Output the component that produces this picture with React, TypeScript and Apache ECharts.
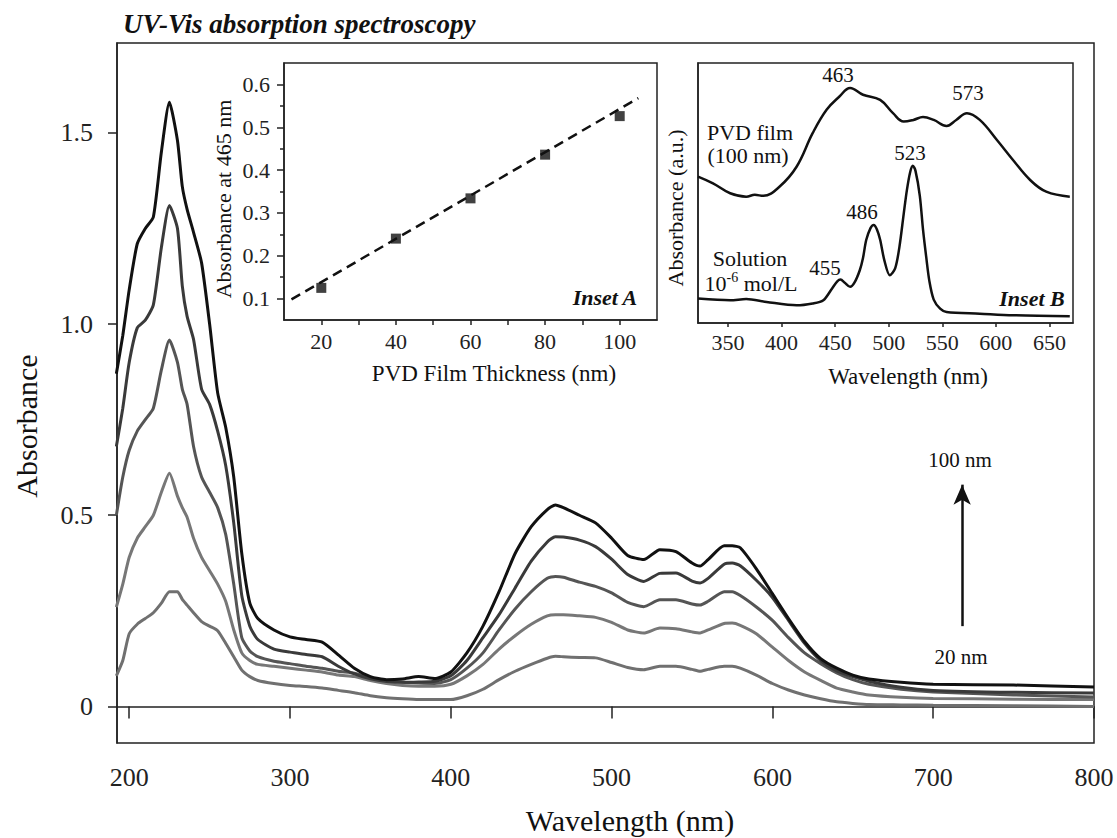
import React, { useEffect, useRef } from "react";
import * as echarts from "echarts";

const SERIF = '"Liberation Serif", "Times New Roman", "DejaVu Serif", serif';

// ---------- Main chart data ----------
const WAVELENGTHS = [
  192, 196, 200, 205, 210, 215, 220, 225, 230, 233, 236, 240, 245, 250, 255, 260, 265, 270, 275, 280,
  290, 300, 310, 320, 330, 340, 350, 360, 370, 380, 390, 400, 410, 420, 430, 440, 450, 460, 465, 470,
  480, 490, 500, 510, 520, 530, 540, 550, 555, 560, 570, 575, 580, 590, 600, 610, 620, 630, 640, 650,
  660, 680, 700, 750, 800,
];
const ABS_100NM = [
  0.87, 0.97, 1.09, 1.21, 1.25, 1.28, 1.45, 1.58, 1.48, 1.36, 1.3, 1.24, 1.16, 1.0, 0.82, 0.73, 0.6, 0.4, 0.27, 0.23,
  0.2, 0.182, 0.175, 0.168, 0.135, 0.1, 0.078, 0.07, 0.072, 0.078, 0.073, 0.09, 0.14, 0.21, 0.3, 0.4, 0.47, 0.515, 0.527, 0.52,
  0.5, 0.48, 0.44, 0.395, 0.384, 0.41, 0.405, 0.375, 0.367, 0.384, 0.42, 0.42, 0.415, 0.36, 0.295, 0.23, 0.17, 0.125, 0.1, 0.082,
  0.072, 0.063, 0.058, 0.056, 0.051,
];
const ABS_80NM = [
  0.68, 0.78, 0.9, 0.99, 1.01, 1.05, 1.2, 1.31, 1.25, 1.1, 1.02, 0.96, 0.83, 0.79, 0.72, 0.63, 0.48, 0.29, 0.21, 0.175,
  0.15, 0.142, 0.136, 0.13, 0.105, 0.085, 0.072, 0.065, 0.063, 0.064, 0.066, 0.08, 0.12, 0.18, 0.24, 0.31, 0.38, 0.43, 0.444, 0.443,
  0.435, 0.418, 0.385, 0.345, 0.327, 0.348, 0.349, 0.328, 0.323, 0.335, 0.372, 0.375, 0.368, 0.33, 0.285, 0.225, 0.165, 0.12, 0.093, 0.078,
  0.066, 0.05, 0.042, 0.037, 0.035,
];
const ABS_60NM = [
  0.5, 0.6, 0.67, 0.72, 0.75, 0.78, 0.88, 0.958, 0.9, 0.83, 0.79, 0.68, 0.6, 0.56, 0.52, 0.45, 0.32, 0.18, 0.145, 0.13,
  0.118, 0.112, 0.105, 0.1, 0.092, 0.087, 0.075, 0.068, 0.063, 0.061, 0.06, 0.07, 0.1, 0.14, 0.2, 0.255, 0.3, 0.335, 0.34, 0.338,
  0.325, 0.314, 0.297, 0.272, 0.261, 0.279, 0.279, 0.268, 0.265, 0.275, 0.3, 0.3, 0.29, 0.26, 0.225, 0.18, 0.14, 0.112, 0.088, 0.07,
  0.058, 0.045, 0.038, 0.03, 0.025,
];
const ABS_40NM = [
  0.26, 0.32, 0.39, 0.44, 0.47, 0.5, 0.56, 0.61, 0.55, 0.52, 0.495, 0.44, 0.39, 0.355, 0.32, 0.275, 0.2, 0.14, 0.12, 0.11,
  0.105, 0.1, 0.095, 0.09, 0.082, 0.078, 0.068, 0.06, 0.055, 0.053, 0.053, 0.058, 0.08, 0.11, 0.15, 0.185, 0.215, 0.237, 0.24, 0.24,
  0.237, 0.233, 0.22, 0.2, 0.192, 0.205, 0.203, 0.195, 0.192, 0.2, 0.217, 0.218, 0.212, 0.19, 0.155, 0.12, 0.09, 0.068, 0.048, 0.038,
  0.03, 0.024, 0.021, 0.019, 0.018,
];
const ABS_20NM = [
  0.08, 0.12, 0.19, 0.215, 0.23, 0.245, 0.27, 0.3, 0.3, 0.28, 0.265, 0.245, 0.222, 0.21, 0.198, 0.165, 0.13, 0.095, 0.078, 0.068,
  0.06, 0.055, 0.052, 0.048, 0.042, 0.036, 0.028, 0.023, 0.02, 0.018, 0.018, 0.018, 0.028, 0.045, 0.07, 0.092, 0.11, 0.126, 0.131, 0.13,
  0.128, 0.127, 0.115, 0.102, 0.096, 0.105, 0.105, 0.097, 0.092, 0.097, 0.105, 0.105, 0.1, 0.082, 0.06, 0.043, 0.03, 0.02, 0.012, 0.008,
  0.005, 0.004, 0.003, 0.002, 0.0,
];
const FILM_THICKNESSES = ["20 nm", "40 nm", "60 nm", "80 nm", "100 nm"];
const MAIN_SERIES = [ABS_20NM, ABS_40NM, ABS_60NM, ABS_80NM, ABS_100NM];
const MAIN_COLORS = ["#707070", "#777777", "#555555", "#3a3a3a", "#111111"];
const MAIN_X_TICKS = [200, 300, 400, 500, 600, 700, 800];
const MAIN_Y_TICKS = [0, 0.5, 1.0, 1.5];

// ---------- Inset A data ----------
const INSET_A_THICKNESS = [20, 40, 60, 80, 100];
const INSET_A_ABS = [0.125, 0.24, 0.334, 0.436, 0.526];
const INSET_A_FIT = [
  [12, 0.098],
  [105, 0.568],
];
const INSET_A_X_TICKS = [20, 30, 40, 50, 60, 70, 80, 90, 100];
const INSET_A_X_LABELS = [20, 40, 60, 80, 100];
const INSET_A_Y_TICKS = [0.1, 0.2, 0.3, 0.4, 0.5, 0.6];
const INSET_A_Y_MINOR = [0.15, 0.25, 0.35, 0.45, 0.55];

// ---------- Inset B data ----------
const FILM_WL = [
  322, 336, 352, 367, 375, 383, 398, 414, 429, 442, 454, 464, 476, 492, 504, 514, 523, 532, 542, 554, 563, 573, 585, 601, 616,
  632, 647, 669,
];
const FILM_ABS = [
  56.3, 53.7, 49.9, 48.6, 49.3, 48.9, 52.4, 60.1, 73, 82, 87.1, 90.4, 87.8, 85.8, 80.7, 77.5, 78.1, 79.2, 78.1, 75.8, 78.1,
  80.7, 78.1, 70.4, 62.7, 55, 50.5, 48.6,
];
const SOL_WL = [
  322, 352, 367, 386, 414, 429, 439, 447, 452, 455, 459, 464, 468, 473, 476, 479, 483, 486, 489, 492, 496, 501, 506, 510, 514,
  517, 520, 522.5, 525, 529, 532, 535, 538, 542, 548, 554, 585, 616, 669,
];
const SOL_ABS = [
  9.4, 8.75, 9.2, 8.1, 6.8, 7.5, 8.75, 13.2, 16, 16.7, 15.5, 13.9, 15.5, 20.3, 25, 31.9, 36.5, 37.7, 36, 32, 24, 18.4, 21,
  29.3, 42, 51.2, 58, 60.5, 58.5, 49, 36, 25.4, 16, 9, 5.5, 4.2, 3.6, 3, 2.6,
];
const INSET_B_X_TICKS = [350, 400, 450, 500, 550, 600, 650];

const zip = (xs: number[], ys: number[]) => xs.map((x, i) => [x, ys[i]]);

const axisLineStyle = { color: "#222", width: 1.5 };

export default function App() {
  const ref = useRef<HTMLDivElement>(null);

  useEffect(() => {
    if (!ref.current) return;
    const chart = echarts.init(ref.current, undefined, { renderer: "svg" });

    const mainSeries = MAIN_SERIES.map((vals, i) => ({
      name: FILM_THICKNESSES[i],
      type: "line",
      xAxisIndex: 0,
      yAxisIndex: 0,
      data: zip(WAVELENGTHS, vals),
      showSymbol: false,
      symbol: "none",
      smooth: 0.2,
      lineStyle: { color: MAIN_COLORS[i], width: 3 },
      z: 2 + i,
      ...(i === MAIN_SERIES.length - 1
        ? {
            markLine: {
              silent: true,
              symbol: ["none", "arrow"],
              symbolSize: [13, 20],
              label: { show: false },
              lineStyle: { color: "#111", width: 2.5, type: "solid" },
              data: [[{ coord: [718, 0.21] }, { coord: [718, 0.58] }]],
            },
          }
        : {}),
    }));

    const txt = (
      text: string,
      x: number,
      y: number,
      size: number,
      opts: Record<string, unknown> = {}
    ) => ({
      type: "text",
      x,
      y,
      ...(opts.rotation !== undefined ? { rotation: opts.rotation } : {}),
      style: {
        text,
        fontFamily: SERIF,
        fontSize: size,
        fill: "#111",
        align: (opts.align as string) || "center",
        verticalAlign: "middle",
        fontStyle: (opts.fontStyle as string) || "normal",
        fontWeight: (opts.fontWeight as string) || "normal",
      },
      z: 100,
    });

    const option = {
      animation: false,
      backgroundColor: "#ffffff",
      textStyle: { fontFamily: SERIF },
      grid: [
        { left: 117, top: 43, width: 977, height: 700, show: true, borderColor: "#222", borderWidth: 1.5, backgroundColor: "transparent" },
        { left: 284, top: 63, width: 373, height: 257, show: true, borderColor: "#222", borderWidth: 1.5, backgroundColor: "#fff" },
        { left: 698, top: 63, width: 375, height: 260, show: true, borderColor: "#222", borderWidth: 1.5, backgroundColor: "#fff" },
      ],
      xAxis: [
        {
          type: "value",
          gridIndex: 0,
          min: 192.4,
          max: 800,
          axisLine: { show: true, lineStyle: axisLineStyle },
          axisTick: { show: true, length: 12, customValues: MAIN_X_TICKS, lineStyle: axisLineStyle },
          axisLabel: { customValues: MAIN_X_TICKS, fontSize: 26, margin: 21, color: "#222", fontFamily: SERIF },
          splitLine: { show: false },
        },
        {
          type: "value",
          gridIndex: 1,
          min: 10,
          max: 110,
          axisLine: { show: true, lineStyle: axisLineStyle },
          axisTick: { show: true, length: 5, customValues: INSET_A_X_TICKS, lineStyle: axisLineStyle },
          axisLabel: { customValues: INSET_A_X_LABELS, fontSize: 22, margin: 10, color: "#222", fontFamily: SERIF },
          splitLine: { show: false },
        },
        {
          type: "value",
          gridIndex: 2,
          min: 322,
          max: 672,
          axisLine: { show: true, lineStyle: axisLineStyle },
          axisTick: { show: true, length: 4, customValues: INSET_B_X_TICKS, lineStyle: axisLineStyle },
          axisLabel: { customValues: INSET_B_X_TICKS, fontSize: 22, margin: 8, color: "#222", fontFamily: SERIF },
          splitLine: { show: false },
        },
      ],
      yAxis: [
        {
          type: "value",
          gridIndex: 0,
          min: -0.0956,
          max: 1.735,
          axisLine: { show: true, lineStyle: axisLineStyle },
          axisTick: { show: true, length: 9, customValues: MAIN_Y_TICKS, lineStyle: axisLineStyle },
          axisLabel: {
            customValues: MAIN_Y_TICKS,
            fontSize: 26,
            margin: 24,
            color: "#222",
            fontFamily: SERIF,
            formatter: (v: number) => (Math.abs(v) < 1e-9 ? "0" : v.toFixed(1)),
          },
          splitLine: { show: false },
        },
        {
          type: "value",
          gridIndex: 1,
          position: "left",
          min: 0.05,
          max: 0.65,
          axisLine: { show: true, lineStyle: axisLineStyle },
          axisTick: { show: true, length: 7, customValues: INSET_A_Y_TICKS, lineStyle: axisLineStyle },
          axisLabel: {
            customValues: INSET_A_Y_TICKS,
            fontSize: 22,
            margin: 14,
            color: "#222",
            fontFamily: SERIF,
            formatter: (v: number) => v.toFixed(1),
          },
          splitLine: { show: false },
        },
        {
          type: "value",
          gridIndex: 1,
          position: "left",
          offset: 0,
          min: 0.05,
          max: 0.65,
          axisLine: { show: false },
          axisTick: { show: true, length: 4, customValues: INSET_A_Y_MINOR, lineStyle: axisLineStyle },
          axisLabel: { show: false },
          splitLine: { show: false },
        },
        {
          type: "value",
          gridIndex: 2,
          min: 0,
          max: 100,
          axisLine: { show: true, lineStyle: axisLineStyle },
          axisTick: { show: false },
          axisLabel: { show: false },
          splitLine: { show: false },
        },
      ],
      series: [
        ...mainSeries,
        {
          name: "fit",
          type: "line",
          xAxisIndex: 1,
          yAxisIndex: 1,
          data: INSET_A_FIT,
          showSymbol: false,
          symbol: "none",
          lineStyle: { color: "#111", width: 2.5, type: [10, 6] },
          z: 5,
        },
        {
          name: "Absorbance at 465 nm",
          type: "scatter",
          xAxisIndex: 1,
          yAxisIndex: 1,
          data: zip(INSET_A_THICKNESS, INSET_A_ABS),
          symbol: "rect",
          symbolSize: 10,
          itemStyle: { color: "#111" },
          z: 6,
        },
        {
          name: "PVD film",
          type: "line",
          xAxisIndex: 2,
          yAxisIndex: 3,
          data: zip(FILM_WL, FILM_ABS),
          showSymbol: false,
          symbol: "none",
          smooth: 0.4,
          lineStyle: { color: "#111", width: 2.5 },
          z: 5,
        },
        {
          name: "Solution",
          type: "line",
          xAxisIndex: 2,
          yAxisIndex: 3,
          data: zip(SOL_WL, SOL_ABS),
          showSymbol: false,
          symbol: "none",
          smooth: 0.3,
          lineStyle: { color: "#111", width: 2.5 },
          z: 5,
        },
      ],
      graphic: [
        txt("UV-Vis absorption spectroscopy", 123, 24, 27, { align: "left", fontStyle: "italic", fontWeight: "bold" }),
        txt("Absorbance", 26, 426, 30, { rotation: Math.PI / 2 }),
        txt("Wavelength (nm)", 630, 820, 30),
        txt("100 nm", 960, 460, 21),
        txt("20 nm", 961, 657, 21),
        // inset A
        txt("Absorbance at 465 nm", 223, 199, 22, { rotation: Math.PI / 2 }),
        txt("PVD Film Thickness (nm)", 494, 373, 23),
        txt("Inset A", 605, 297, 22, { fontStyle: "italic", fontWeight: "bold" }),
        // inset B
        txt("Absorbance (a.u.)", 675, 208, 22, { rotation: Math.PI / 2 }),
        txt("Wavelength (nm)", 908, 376, 23),
        txt("Inset B", 1032, 298, 22, { fontStyle: "italic", fontWeight: "bold" }),
        txt("463", 838, 75, 21),
        txt("573", 968, 93, 21),
        txt("523", 910, 153, 21),
        txt("486", 862, 212, 21),
        txt("455", 825, 268, 21),
        txt("PVD film", 750, 132, 22),
        txt("(100 nm)", 748, 155, 22),
        txt("Solution", 750, 258, 22),
        {
          type: "text",
          x: 751,
          y: 282,
          z: 100,
          style: {
            text: "{n|10}{s|-6}{n| mol/L}",
            align: "center",
            verticalAlign: "middle",
            fill: "#111",
            fontFamily: SERIF,
            rich: {
              n: { fontFamily: SERIF, fontSize: 22, fill: "#111", lineHeight: 24, verticalAlign: "bottom" },
              s: { fontFamily: SERIF, fontSize: 14, fill: "#111", lineHeight: 24, verticalAlign: "top" },
            },
          },
        },
      ],
    };

    chart.setOption(option as echarts.EChartsOption);
    return () => chart.dispose();
  }, []);

  return (
    <div
      ref={ref}
      style={{ position: "fixed", left: 0, top: 0, width: 1117, height: 838, background: "#fff" }}
    />
  );
}
